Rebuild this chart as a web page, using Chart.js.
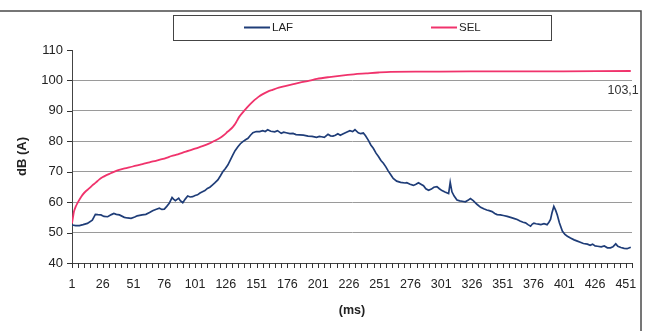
<!DOCTYPE html>
<html>
<head>
<meta charset="utf-8">
<script src="https://cdn.jsdelivr.net/npm/chart.js@4/dist/chart.umd.min.js"></script>
<style>
  html, body { margin: 0; padding: 0; background: #fff; }
  #wrap { width: 660px; height: 331px; position: relative; }
</style>
</head>
<body>
<div id="wrap"><canvas id="chart"></canvas></div>
<script>
// values (ms, dB(A))
const lafMs = [1, 4, 7, 10, 13.5, 17.5, 20, 22, 24.5, 27, 30, 33, 35, 37, 39.5, 43.5, 46, 49, 52, 54, 58, 61, 64, 66.5, 69, 72, 74, 76, 78, 80,
  82.3, 83.5, 85, 87.7, 89, 91, 93, 95, 97, 99, 101, 103, 105, 107, 109, 111, 113, 115, 117, 119.5, 121.5, 123.5, 125.5, 127.6, 129.5,
  131.7, 133.5, 135.8, 137.8, 139.8, 142, 144, 146, 148, 150.7, 153.4, 156, 158, 160, 162.5, 165.7, 168, 171, 173, 175, 178, 180.6,
  183, 186, 189, 192.8, 196, 199.7, 202, 203.7, 206, 209, 211, 213, 215, 217, 219, 221, 224, 226.8, 229, 230.9, 233.6, 235.5, 237.7,
  239.5, 241.7, 243.8, 245.8, 248, 250, 252, 254, 256, 258, 260, 262, 264.8, 268, 271.6, 273, 275.7, 278.4, 280.5, 282.5, 284.5,
  286.6, 288.5, 290.7, 293, 295, 297.5, 299.5, 301.6, 304, 307, 308.3, 309.7, 311.5, 313.8, 316, 318, 320.6, 322.7, 324.7, 327, 330,
  333, 335.5, 338, 340, 342.3, 344.5, 346.4, 349, 351.5, 354.6, 358, 360.5, 362.7, 365, 367.5, 369.5, 371.5, 373.6, 375, 376.3, 378,
  380, 382, 384.5, 387, 388.5, 389.8, 391, 392.5, 394, 395.3, 397, 399.4, 401.5, 403.5, 406, 409, 411.6, 414, 416.5, 419.8, 422, 424,
  426, 428, 431, 433.5, 436, 438.5, 440.5, 442.8, 444.5, 447, 449.6, 452, 455];
const lafDb = [52.5, 52.3, 52.3, 52.6, 53.0, 54.1, 56.0, 55.9, 55.8, 55.3, 55.2, 55.9, 56.3, 56.0, 55.8, 55.0, 54.8, 54.7, 55.1, 55.5, 55.8, 56.0, 56.6, 57.2, 57.6, 58.0, 57.6, 57.7, 58.6, 59.6,
  61.5, 61.0, 60.5, 61.3, 60.5, 59.8, 61.0, 62.0, 61.7, 61.8, 62.2, 62.4, 63.0, 63.4, 63.8, 64.5, 64.9, 65.6, 66.3, 67.3, 68.6, 70.0, 71.0, 72.2, 73.7,
  75.5, 76.9, 78.2, 79.2, 79.9, 80.5, 81.0, 82.0, 82.8, 83.2, 83.2, 83.5, 83.2, 83.8, 83.3, 83.1, 83.5, 82.6, 83.0, 82.8, 82.5, 82.6,
  82.2, 82.1, 82.0, 81.7, 81.6, 81.3, 81.6, 81.5, 81.3, 82.3, 81.8, 81.7, 82.0, 82.5, 82.0, 82.4, 83.0, 83.5, 83.2, 83.8, 82.8, 82.5, 82.7,
  81.8, 80.4, 78.8, 77.7, 76.1, 75.0, 73.7, 72.8, 71.6, 70.2, 69.0, 67.8, 66.9, 66.5, 66.3, 66.4, 65.9, 65.5, 65.9, 66.4, 65.9,
  65.4, 64.4, 63.9, 64.3, 64.9, 65.1, 64.4, 63.8, 63.3, 62.8, 66.5, 63.4, 62.0, 60.7, 60.4, 60.3, 60.1, 60.6, 61.2, 60.5, 59.3,
  58.3, 57.8, 57.4, 57.2, 56.9, 56.3, 55.9, 55.8, 55.6, 55.3, 54.9, 54.6, 54.3, 53.8, 53.4, 53.2, 52.6, 52.1, 52.8, 53.1, 52.9,
  52.8, 52.6, 52.9, 52.6, 53.4, 54.3, 56.5, 58.6, 57.3, 55.8, 53.2, 50.5, 49.4, 48.8, 48.2, 47.6, 47.2, 46.8, 46.4, 46.2, 45.8, 46.2,
  45.6, 45.5, 45.3, 45.6, 45.0, 45.0, 45.3, 46.3, 45.5, 45.1, 44.8, 44.7, 45.2];

const selMs = [1, 2, 2.6, 4, 5.3, 7, 9.4, 12, 14.9, 17.5, 20.3, 23, 25.7, 29, 32.5, 36, 39.3, 43, 47.5, 53, 58.3, 64, 69.2, 75, 80,
  86, 91, 96, 101.8, 107, 112.7, 117, 120.8, 124, 127.6, 130.5, 133, 135, 137, 140, 142.6, 146, 149.4, 152.5, 156, 160, 164, 169,
  175, 180, 186, 194, 200, 210, 220, 230, 240, 250, 260, 300, 350, 400, 455];
const selDb = [53.0, 55.5, 56.9, 58.5, 59.6, 60.8, 62.3, 63.5, 64.5, 65.5, 66.4, 67.4, 68.2, 68.9, 69.5, 70.1, 70.6, 71.0, 71.4, 72.0, 72.5, 73.1, 73.6, 74.2, 74.9,
  75.6, 76.3, 76.9, 77.7, 78.4, 79.3, 80.2, 81.0, 81.9, 83.2, 84.2, 85.4, 86.7, 88.1, 89.6, 90.8, 92.3, 93.6, 94.6, 95.5, 96.3, 96.9, 97.6,
  98.2, 98.7, 99.3, 99.9, 100.5, 101.1, 101.6, 102.0, 102.3, 102.6, 102.8, 102.9, 103.0, 103.0, 103.1];

const seriesNames = ['LAF', 'SEL'];
const xTickLabels = [1, 26, 51, 76, 101, 126, 151, 176, 201, 226, 251, 276, 301, 326, 351, 376, 401, 426, 451];
const yTicks = [40, 50, 60, 70, 80, 90, 100, 110];
const selEndLabel = '103,1';

const fontFam = '"Liberation Sans", Arial, sans-serif';

// small tick marks every 5 ms on the x axis
const xMinorTicks = [];
for (let v = 1; v <= 456; v += 5) xMinorTicks.push(v);

// frame round the whole chart, like the scanned Excel chart
const framePlugin = {
    id: 'frame',
    beforeDraw(chart) {
        const c = chart.ctx;
        c.save();
        c.fillStyle = '#fff';
        c.fillRect(0, 0, chart.width, chart.height);
        c.strokeStyle = '#4a4a4a';
        c.lineWidth = 1.5;
        c.strokeRect(-2, 11, 643, 340);
        c.restore();
    }
};

// outward tick marks on both axes
const tickMarkPlugin = {
    id: 'tickMarks',
    afterDraw(chart) {
        const c = chart.ctx;
        const xs = chart.scales.x, ys = chart.scales.y;
        const area = chart.chartArea;
        c.save();
        c.strokeStyle = '#333';
        c.lineWidth = 1;
        c.beginPath();
        xMinorTicks.forEach(v => {
            const px = Math.round(xs.getPixelForValue(v)) + 0.5;
            c.moveTo(px, area.bottom);
            c.lineTo(px, area.bottom + 5);
        });
        yTicks.forEach(v => {
            const py = Math.round(ys.getPixelForValue(v)) + 0.5;
            c.moveTo(area.left - 5, py);
            c.lineTo(area.left, py);
        });
        c.stroke();
        c.restore();
    }
};

// boxed legend at the top
const legendBoxPlugin = {
    id: 'legendBox',
    afterDraw(chart) {
        const c = chart.ctx;
        c.save();
        c.strokeStyle = '#444';
        c.lineWidth = 1;
        c.strokeRect(173.5, 15.5, 378, 25);
        const spots = [244, 431];
        c.font = '11.5px ' + fontFam;
        c.textBaseline = 'middle';
        chart.data.datasets.forEach((ds, i) => {
            c.strokeStyle = ds.borderColor;
            c.lineWidth = 2;
            c.beginPath();
            c.moveTo(spots[i], 27.5);
            c.lineTo(spots[i] + 26, 27.5);
            c.stroke();
            c.fillStyle = '#222';
            c.fillText(ds.label, spots[i] + 28, 27.5);
        });
        c.restore();
    }
};

// value label under the last SEL point
const endLabelPlugin = {
    id: 'endLabel',
    afterDatasetsDraw(chart) {
        const meta = chart.getDatasetMeta(1);
        const last = meta.data[meta.data.length - 1];
        const c = chart.ctx;
        c.save();
        c.font = '12.5px ' + fontFam;
        c.fillStyle = '#333';
        c.textAlign = 'right';
        c.textBaseline = 'middle';
        c.fillText(selEndLabel, last.x + 8, last.y + 20);
        c.restore();
    }
};

const ctx = document.getElementById('chart').getContext('2d');
new Chart(ctx, {
    type: 'line',
    data: {
        datasets: [
            {
                label: seriesNames[0],
                data: lafMs.map((x, i) => ({ x: x, y: lafDb[i] })),
                borderColor: '#1f3d78',
                borderWidth: 1.7,
                pointRadius: 0,
                tension: 0
            },
            {
                label: seriesNames[1],
                data: selMs.map((x, i) => ({ x: x, y: selDb[i] })),
                borderColor: '#f0336c',
                borderWidth: 1.8,
                pointRadius: 0,
                tension: 0.3
            }
        ]
    },
    options: {
        responsive: true,
        maintainAspectRatio: false,
        animation: false,
        layout: { padding: { top: 50, right: 28, left: 0, bottom: 0 } },
        plugins: {
            legend: { display: false },
            tooltip: { enabled: false }
        },
        scales: {
            x: {
                type: 'linear',
                min: 1,
                max: 456,
                afterBuildTicks: axis => { axis.ticks = xMinorTicks.map(v => ({ value: v })); },
                afterFit: axis => { axis.height = 68; },
                grid: { display: false },
                border: { display: true, color: '#444', width: 1 },
                ticks: {
                    autoSkip: false,
                    maxRotation: 0,
                    padding: 6,
                    color: '#222',
                    font: { family: fontFam, size: 12.5 },
                    callback: v => xTickLabels.includes(v) ? String(v) : ''
                },
                title: {
                    display: true,
                    text: '(ms)',
                    color: '#222',
                    font: { family: fontFam, size: 12.5, weight: 'bold' },
                    padding: { top: 0, bottom: 13 }
                }
            },
            y: {
                min: 40,
                max: 110,
                afterBuildTicks: axis => { axis.ticks = yTicks.map(v => ({ value: v })); },
                afterFit: axis => { axis.width = 72; },
                grid: {
                    color: c => c.tick && c.tick.value === 110 ? 'rgba(0,0,0,0)' : '#9a9a9a',
                    drawTicks: false
                },
                border: { color: '#444', width: 1 },
                ticks: {
                    padding: 9,
                    color: '#222',
                    font: { family: fontFam, size: 13 }
                },
                title: {
                    display: true,
                    text: 'dB (A)',
                    color: '#222',
                    font: { family: fontFam, size: 13, weight: 'bold' },
                    padding: { top: 15, bottom: 0 }
                }
            }
        }
    },
    plugins: [framePlugin, tickMarkPlugin, legendBoxPlugin, endLabelPlugin]
});
</script>
</body>
</html>
